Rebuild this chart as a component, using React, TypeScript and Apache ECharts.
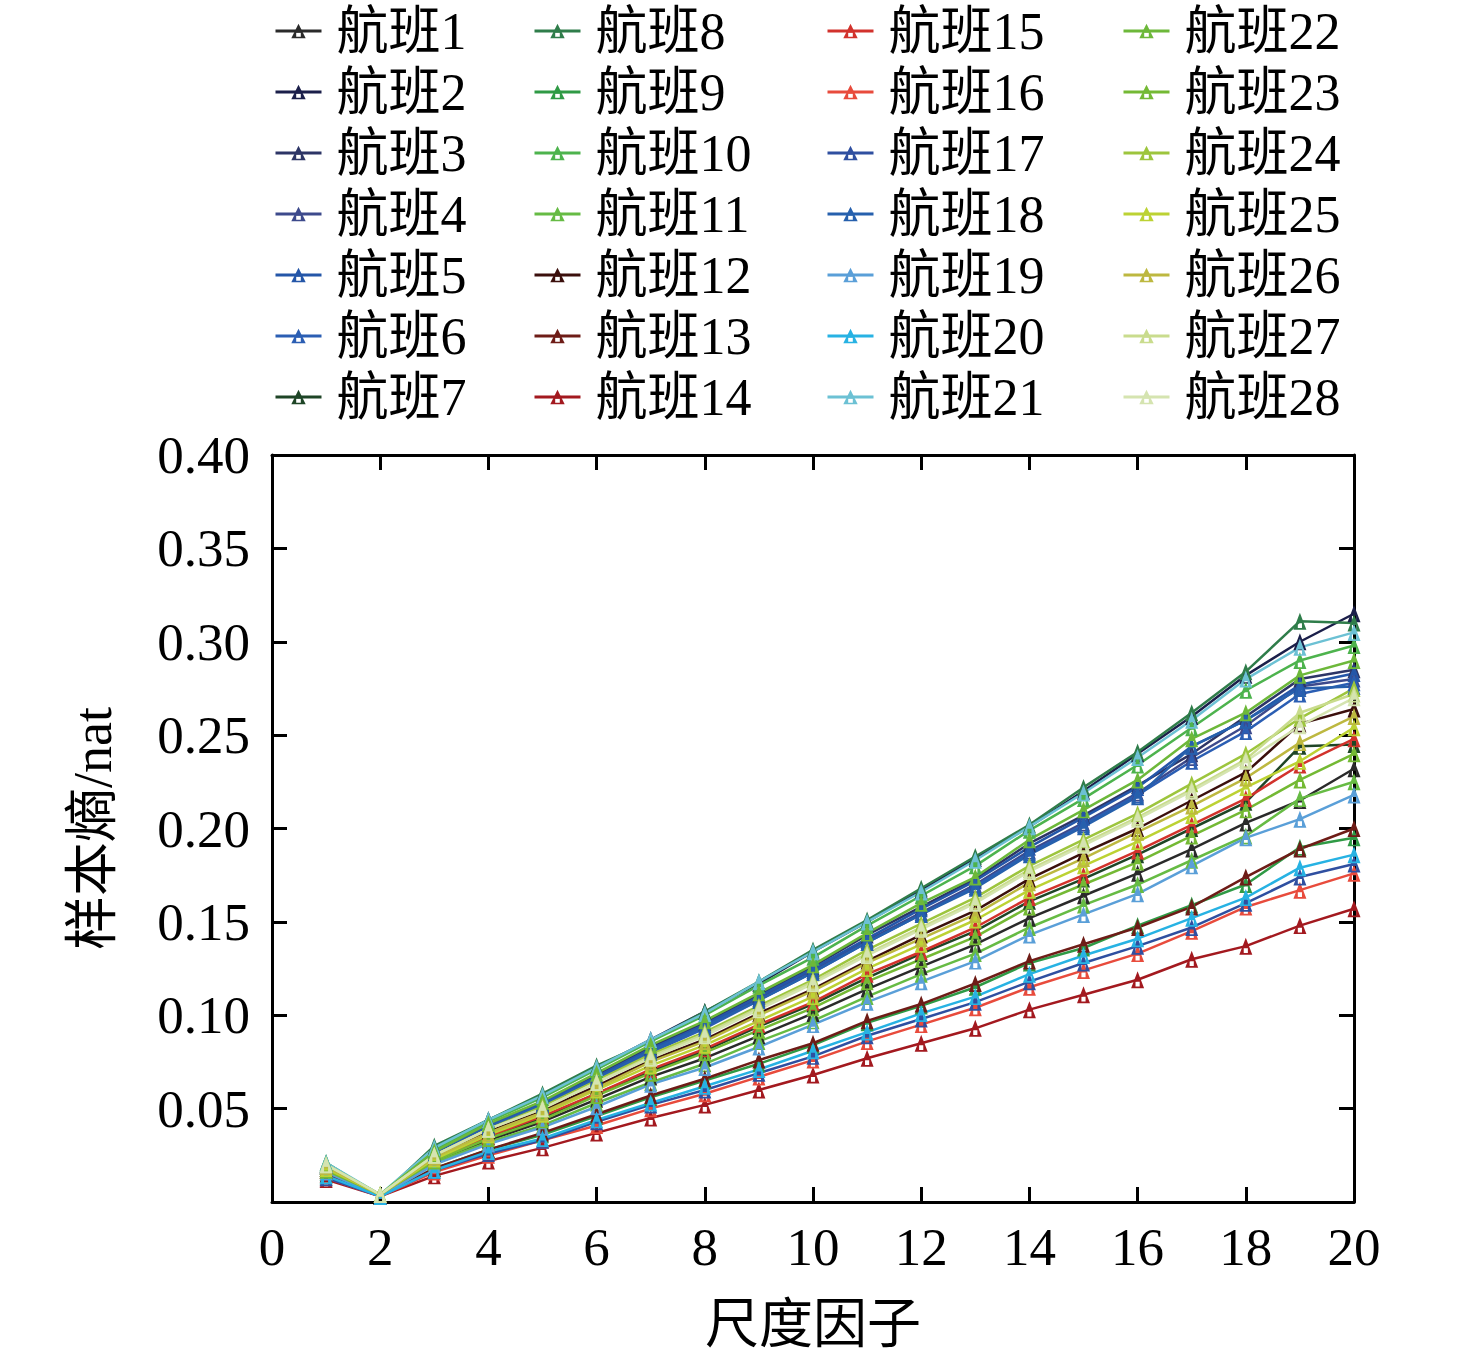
import { useEffect, useRef } from 'react';
import * as echarts from 'echarts';

const scaleFactors = [1, 2, 3, 4, 5, 6, 7, 8, 9, 10, 11, 12, 13, 14, 15, 16, 17, 18, 19, 20];

const yTicks = [0, 0.05, 0.1, 0.15, 0.2, 0.25, 0.3, 0.35, 0.4];

const flight1 = [0.017, 0.003, 0.021, 0.033, 0.043, 0.055, 0.067, 0.077, 0.089, 0.101, 0.114, 0.126, 0.138, 0.152, 0.164, 0.176, 0.189, 0.203, 0.215, 0.232];
const flight2 = [0.020, 0.003, 0.029, 0.044, 0.057, 0.072, 0.087, 0.102, 0.117, 0.134, 0.150, 0.167, 0.184, 0.201, 0.220, 0.240, 0.260, 0.282, 0.300, 0.315];
const flight3 = [0.020, 0.003, 0.027, 0.041, 0.053, 0.068, 0.083, 0.096, 0.111, 0.126, 0.143, 0.158, 0.173, 0.192, 0.207, 0.223, 0.240, 0.260, 0.280, 0.285];
const flight4 = [0.020, 0.003, 0.026, 0.040, 0.052, 0.067, 0.081, 0.094, 0.109, 0.124, 0.140, 0.155, 0.170, 0.188, 0.203, 0.219, 0.238, 0.255, 0.276, 0.280];
const flight5 = [0.020, 0.003, 0.026, 0.041, 0.053, 0.067, 0.082, 0.095, 0.110, 0.125, 0.141, 0.157, 0.172, 0.190, 0.206, 0.222, 0.244, 0.258, 0.277, 0.283];
const flight6 = [0.019, 0.003, 0.026, 0.040, 0.052, 0.066, 0.080, 0.093, 0.108, 0.123, 0.139, 0.154, 0.169, 0.187, 0.202, 0.218, 0.236, 0.252, 0.272, 0.278];
const flight7 = [0.018, 0.003, 0.022, 0.035, 0.045, 0.058, 0.070, 0.081, 0.094, 0.106, 0.120, 0.133, 0.145, 0.161, 0.173, 0.186, 0.200, 0.214, 0.244, 0.245];
const flight8 = [0.021, 0.003, 0.030, 0.044, 0.058, 0.073, 0.086, 0.102, 0.118, 0.135, 0.151, 0.168, 0.185, 0.202, 0.222, 0.241, 0.262, 0.284, 0.311, 0.310];
const flight9 = [0.014, 0.003, 0.018, 0.028, 0.036, 0.046, 0.056, 0.065, 0.074, 0.084, 0.096, 0.105, 0.115, 0.128, 0.136, 0.148, 0.159, 0.170, 0.190, 0.195];
const flight10 = [0.021, 0.003, 0.028, 0.043, 0.056, 0.071, 0.086, 0.100, 0.116, 0.131, 0.148, 0.164, 0.180, 0.199, 0.216, 0.234, 0.254, 0.274, 0.290, 0.298];
const flight11 = [0.016, 0.003, 0.021, 0.032, 0.041, 0.053, 0.064, 0.074, 0.086, 0.097, 0.110, 0.122, 0.133, 0.147, 0.159, 0.170, 0.183, 0.196, 0.216, 0.225];
const flight12 = [0.018, 0.003, 0.024, 0.038, 0.049, 0.062, 0.076, 0.087, 0.101, 0.114, 0.129, 0.143, 0.156, 0.173, 0.187, 0.200, 0.215, 0.230, 0.256, 0.264];
const flight13 = [0.015, 0.003, 0.018, 0.028, 0.037, 0.047, 0.057, 0.066, 0.076, 0.085, 0.097, 0.106, 0.117, 0.129, 0.138, 0.147, 0.158, 0.174, 0.189, 0.200];
const flight14 = [0.012, 0.003, 0.014, 0.022, 0.029, 0.037, 0.045, 0.052, 0.060, 0.068, 0.077, 0.085, 0.093, 0.103, 0.111, 0.119, 0.130, 0.137, 0.148, 0.157];
const flight15 = [0.017, 0.003, 0.023, 0.035, 0.046, 0.058, 0.071, 0.082, 0.095, 0.107, 0.122, 0.134, 0.147, 0.163, 0.175, 0.188, 0.202, 0.216, 0.234, 0.248];
const flight16 = [0.013, 0.003, 0.016, 0.025, 0.033, 0.041, 0.050, 0.058, 0.067, 0.076, 0.086, 0.095, 0.104, 0.115, 0.124, 0.133, 0.145, 0.158, 0.167, 0.176];
const flight17 = [0.013, 0.003, 0.017, 0.026, 0.033, 0.043, 0.052, 0.060, 0.069, 0.078, 0.089, 0.098, 0.107, 0.118, 0.128, 0.137, 0.147, 0.160, 0.174, 0.181];
const flight18 = [0.019, 0.003, 0.026, 0.040, 0.052, 0.066, 0.081, 0.094, 0.108, 0.123, 0.139, 0.154, 0.168, 0.186, 0.201, 0.217, 0.244, 0.258, 0.275, 0.276];
const flight19 = [0.016, 0.003, 0.020, 0.031, 0.040, 0.051, 0.063, 0.072, 0.083, 0.095, 0.107, 0.118, 0.129, 0.143, 0.154, 0.165, 0.180, 0.195, 0.205, 0.218];
const flight20 = [0.014, 0.003, 0.017, 0.027, 0.034, 0.044, 0.053, 0.062, 0.071, 0.081, 0.091, 0.101, 0.110, 0.122, 0.132, 0.141, 0.152, 0.163, 0.179, 0.186];
const flight21 = [0.021, 0.004, 0.029, 0.044, 0.057, 0.072, 0.087, 0.101, 0.118, 0.134, 0.150, 0.166, 0.183, 0.201, 0.219, 0.238, 0.258, 0.280, 0.297, 0.305];
const flight22 = [0.020, 0.004, 0.027, 0.042, 0.054, 0.069, 0.084, 0.097, 0.112, 0.127, 0.144, 0.160, 0.174, 0.194, 0.210, 0.226, 0.248, 0.262, 0.282, 0.290];
const flight23 = [0.017, 0.004, 0.022, 0.034, 0.044, 0.057, 0.069, 0.080, 0.092, 0.104, 0.118, 0.130, 0.142, 0.158, 0.170, 0.182, 0.196, 0.210, 0.226, 0.240];
const flight24 = [0.019, 0.004, 0.025, 0.039, 0.051, 0.065, 0.079, 0.091, 0.105, 0.119, 0.135, 0.149, 0.163, 0.180, 0.194, 0.208, 0.224, 0.240, 0.259, 0.275];
const flight25 = [0.018, 0.004, 0.023, 0.036, 0.047, 0.060, 0.073, 0.084, 0.097, 0.110, 0.125, 0.138, 0.151, 0.167, 0.180, 0.193, 0.207, 0.222, 0.236, 0.254];
const flight26 = [0.019, 0.004, 0.024, 0.037, 0.048, 0.061, 0.075, 0.086, 0.100, 0.113, 0.128, 0.141, 0.154, 0.171, 0.184, 0.198, 0.212, 0.227, 0.246, 0.260];
const flight27 = [0.020, 0.004, 0.025, 0.039, 0.050, 0.064, 0.078, 0.090, 0.104, 0.118, 0.133, 0.147, 0.161, 0.178, 0.192, 0.206, 0.221, 0.237, 0.262, 0.272];
const flight28 = [0.020, 0.004, 0.025, 0.039, 0.050, 0.064, 0.077, 0.089, 0.103, 0.117, 0.132, 0.146, 0.160, 0.177, 0.191, 0.205, 0.220, 0.236, 0.255, 0.270];

const flights = [
  flight1, flight2, flight3, flight4, flight5, flight6, flight7,
  flight8, flight9, flight10, flight11, flight12, flight13, flight14,
  flight15, flight16, flight17, flight18, flight19, flight20, flight21,
  flight22, flight23, flight24, flight25, flight26, flight27, flight28,
];

const flightNames = [
  '航班1', '航班2', '航班3', '航班4', '航班5', '航班6', '航班7',
  '航班8', '航班9', '航班10', '航班11', '航班12', '航班13', '航班14',
  '航班15', '航班16', '航班17', '航班18', '航班19', '航班20', '航班21',
  '航班22', '航班23', '航班24', '航班25', '航班26', '航班27', '航班28',
];

const flightColors = [
  '#2a2a2a', '#1b1f4a', '#2d3566', '#3d4a8c', '#2456a8', '#2b5eb3', '#1e4526',
  '#2f7d4a', '#2f9a45', '#4db34d', '#66bb44', '#3b0f0c', '#6e1c17', '#a3191f',
  '#d2322c', '#e84b3c', '#2f4fa0', '#2660ad', '#5a9fd8', '#27b2e3', '#6cc1d4',
  '#6db83a', '#74b934', '#9dc53d', '#bcd233', '#bdb840', '#c9dc8d', '#d5e4b0',
];

const FONT = 'Liberation Serif, Times New Roman, Noto Sans CJK SC, serif';
const MARKER = 'path://M5 0L10 10L0 10Z M3.4 6.2L3.4 9L6.6 9L6.6 6.2Z';

const legendLefts = [274, 533, 826, 1122];

function axisLine() {
  return { show: true, onZero: false, lineStyle: { color: '#000', width: 3 } };
}

function axisTick() {
  return { show: true, inside: true, length: 15, lineStyle: { color: '#000', width: 3 } };
}

export default function App() {
  const chartRef = useRef<HTMLDivElement>(null);

  useEffect(() => {
    if (!chartRef.current) return;
    const chart = echarts.init(chartRef.current, null, { renderer: 'svg' });

    const option: echarts.EChartsOption = {
      animation: false,
      backgroundColor: '#fff',
      grid: {
        left: 272,
        right: 122,
        top: 455,
        bottom: 160,
        containLabel: false,
        outerBoundsMode: 'none',
      } as any,
      legend: legendLefts.map((left, col) => ({
        data: flightNames.slice(col * 7, col * 7 + 7),
        orient: 'vertical',
        left,
        top: 5,
        padding: 0,
        itemWidth: 46,
        itemHeight: 18,
        itemGap: 9,
        lineStyle: { width: 3 },
        textStyle: {
          fontFamily: FONT,
          fontSize: 52,
          color: '#000',
          lineHeight: 52,
          padding: [0, 0, 0, 10],
        },
      })),
      xAxis: [
        {
          type: 'value',
          min: 0,
          max: 20,
          interval: 2,
          name: '尺度因子',
          nameLocation: 'middle',
          nameGap: 96,
          nameTextStyle: { fontFamily: FONT, fontSize: 54, color: '#000' },
          axisLine: axisLine(),
          axisTick: axisTick(),
          splitLine: { show: false },
          axisLabel: { fontFamily: FONT, fontSize: 53, color: '#000', margin: 18 },
        },
        {
          type: 'value',
          position: 'top',
          min: 0,
          max: 20,
          interval: 2,
          axisLine: axisLine(),
          axisTick: axisTick(),
          splitLine: { show: false },
          axisLabel: { show: false },
        },
      ],
      yAxis: [
        {
          type: 'value',
          min: yTicks[0],
          max: yTicks[yTicks.length - 1],
          interval: 0.05,
          name: '样本熵/nat',
          nameLocation: 'middle',
          nameGap: 152,
          nameTextStyle: { fontFamily: FONT, fontSize: 54, color: '#000' },
          axisLine: axisLine(),
          axisTick: axisTick(),
          splitLine: { show: false },
          axisLabel: {
            fontFamily: FONT,
            fontSize: 53,
            color: '#000',
            margin: 22,
            formatter: (v: number) => (v === 0 ? '' : v.toFixed(2)),
          },
        },
        {
          type: 'value',
          position: 'right',
          min: yTicks[0],
          max: yTicks[yTicks.length - 1],
          interval: 0.05,
          axisLine: axisLine(),
          axisTick: axisTick(),
          splitLine: { show: false },
          axisLabel: { show: false },
        },
      ],
      series: flights.map((vals, i) => ({
        name: flightNames[i],
        type: 'line',
        data: vals.map((v, j) => [scaleFactors[j], v]),
        color: flightColors[i],
        symbol: MARKER,
        symbolSize: [13, 17],
        showSymbol: true,
        lineStyle: { width: 2.5, color: flightColors[i] },
        itemStyle: { color: flightColors[i] },
      })),
    };

    chart.setOption(option);

    return () => {
      chart.dispose();
    };
  }, []);

  return (
    <div
      ref={chartRef}
      style={{ position: 'absolute', left: 0, top: 0, width: 1476, height: 1362 }}
    />
  );
}
